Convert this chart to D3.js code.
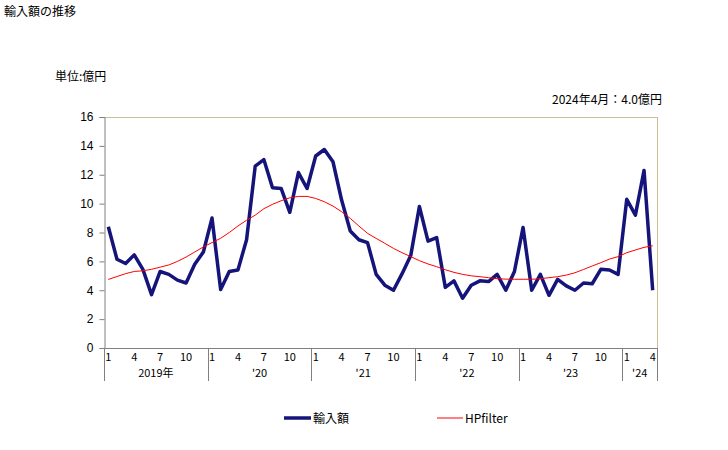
<!DOCTYPE html>
<html><head><meta charset="utf-8">
<script src="https://cdn.jsdelivr.net/npm/d3@7"></script>
<style>body{margin:0;background:#fff;} svg{font-family:"Noto Sans CJK JP","Noto Sans",sans-serif;}</style>
</head><body>
<script>
const years = ["2019年","'20","'21","'22","'23","'24"];
const monthTicks = [1,4,7,10];
const yTicks = [0,2,4,6,8,10,12,14,16];
const imports = [8.4,6.15,5.85,6.45,5.45,3.7,5.3,5.1,4.7,4.5,5.8,6.65,
  9.0,4.05,5.3,5.4,7.5,12.6,13.05,11.1,11.05,9.4,12.15,11.05,
  13.3,13.75,12.9,10.25,8.1,7.5,7.3,5.1,4.35,4.0,5.15,6.4,
  9.8,7.4,7.65,4.2,4.65,3.45,4.35,4.65,4.6,5.1,4.0,5.3,
  8.35,4.0,5.1,3.65,4.75,4.3,4.0,4.5,4.45,5.45,5.4,5.1,
  10.3,9.2,12.3,4.0];
const hp = [4.75,4.95,5.15,5.3,5.35,5.45,5.6,5.75,6.0,6.3,6.65,7.0,
  7.3,7.6,8.0,8.45,8.85,9.2,9.65,9.95,10.2,10.4,10.5,10.5,
  10.36,10.13,9.83,9.44,8.98,8.45,7.94,7.59,7.25,6.9,6.6,6.33,
  6.05,5.82,5.63,5.42,5.24,5.1,5.0,4.94,4.87,4.8,4.77,4.76,
  4.76,4.76,4.8,4.87,4.94,5.05,5.21,5.44,5.68,5.91,6.16,6.33,
  6.6,6.79,6.97,7.08];

const W=728,H=450;
const svg=d3.select("body").append("svg").attr("width",W).attr("height",H);
const L=104,R=657,T=117,B=348;
const n=imports.length;
const x=d3.scaleLinear().domain([0,n]).range([L,R]);
const y=d3.scaleLinear().domain([0,16]).range([B,T]);
const cx=i=>x(i+0.5);

svg.append("text").attr("x",4).attr("y",16).attr("font-size",12).text("輸入額の推移");
svg.append("text").attr("x",55).attr("y",81).attr("font-size",12).text("単位:億円");
svg.append("text").attr("x",662).attr("y",104).attr("text-anchor","end").attr("font-size",12).text("2024年4月：4.0億円");

// frame
svg.append("line").attr("x1",L).attr("x2",R).attr("y1",T+0.5).attr("y2",T+0.5).attr("stroke","#c8bf98");
svg.append("line").attr("x1",R+0.5).attr("x2",R+0.5).attr("y1",T).attr("y2",B).attr("stroke","#c8bf98");

// y axis
const ya=svg.append("g").attr("transform",`translate(${L+0.5},0)`)
  .call(d3.axisLeft(y).tickValues(yTicks).tickSize(5).tickFormat(d3.format("d")));
ya.select(".domain").attr("stroke","#808080");
ya.selectAll(".tick line").attr("stroke","#808080");
ya.selectAll("text").attr("font-size",12).attr("fill","#000").attr("x",-11);

// x axis baseline
svg.append("line").attr("x1",L).attr("x2",R).attr("y1",B+0.5).attr("y2",B+0.5).attr("stroke","#808080");
// year separators
for(let k=0;k<=years.length;k++){
  const i=Math.min(k*12,n);
  svg.append("line").attr("x1",Math.round(x(i))+0.5).attr("x2",Math.round(x(i))+0.5)
    .attr("y1",B).attr("y2",381).attr("stroke","#808080");
}
// month labels
for(let i=0;i<n;i++){
  const m=i%12+1;
  if(monthTicks.includes(m)){
    svg.append("text").attr("x",cx(i)).attr("y",361).attr("text-anchor","middle").attr("font-size",11).text(m);
  }
}
years.forEach((yr,k)=>{
  const s=k*12,e=Math.min(k*12+12,n);
  svg.append("text").attr("x",(x(s)+x(e))/2).attr("y",377).attr("text-anchor","middle").attr("font-size",11).text(yr);
});

const line=d3.line().x((d,i)=>cx(i)).y(d=>y(d));
svg.append("path").datum(imports).attr("d",line).attr("fill","none").attr("stroke","#14147a").attr("stroke-width",3.5).attr("stroke-linejoin","round");
svg.append("path").datum(hp).attr("d",line).attr("fill","none").attr("stroke","#ff0000").attr("stroke-width",1);

// legend
svg.append("line").attr("x1",284).attr("x2",311).attr("y1",418).attr("y2",418).attr("stroke","#14147a").attr("stroke-width",3.5);
svg.append("text").attr("x",313).attr("y",423).attr("font-size",12).text("輸入額");
svg.append("line").attr("x1",437).attr("x2",463).attr("y1",418).attr("y2",418).attr("stroke","#ff0000").attr("stroke-width",1);
svg.append("text").attr("x",465).attr("y",423).attr("font-size",12).text("HPfilter");
</script>
</body></html>
